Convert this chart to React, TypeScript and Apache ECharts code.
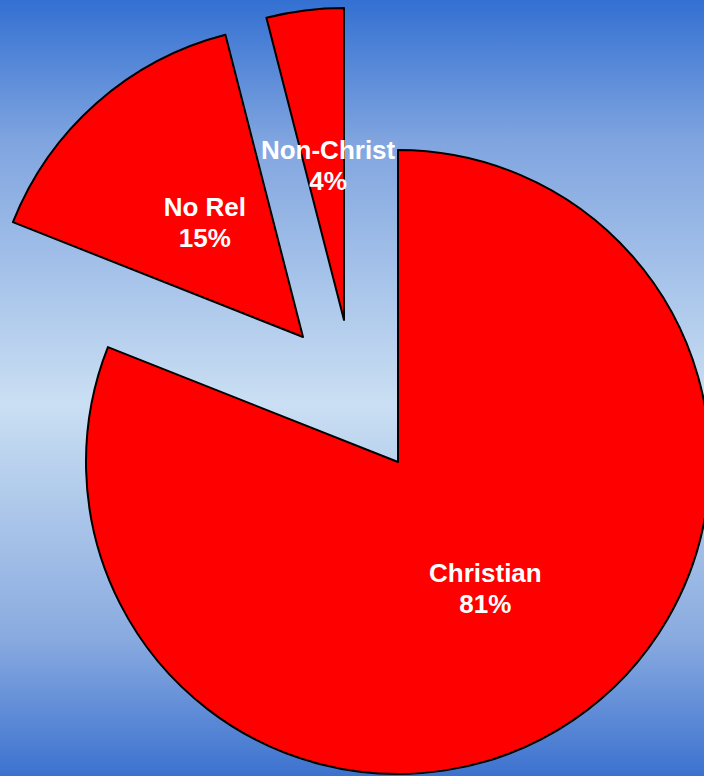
import React, { useEffect, useRef } from "react";
import * as echarts from "echarts";

const categories = ["Christian", "No Rel", "Non-Christ"];
const values = [81, 15, 4];
const labels = ["Christian\n81%", "No Rel\n15%", "Non-Christ\n4%"];
// pixel center of each (exploded) slice
const centers: [number, number][] = [
  [398, 462],
  [303, 337],
  [344, 320],
];
const labelOffsets: [number, number][] = [
  [-2, -5],
  [7, 5],
  [4, 3],
];

export default function App() {
  const ref = useRef<HTMLDivElement>(null);
  useEffect(() => {
    document.body.style.margin = "0";
    const chart = echarts.init(ref.current!, null, { renderer: "svg" });
    const series = categories.map((_, si) => ({
      type: "pie",
      name: categories[si],
      center: centers[si],
      radius: 312,
      startAngle: 90,
      clockwise: true,
      avoidLabelOverlap: false,
      labelLine: { show: false },
      emphasis: { disabled: true },
      silent: true,
      data: categories.map((c, i) => ({
        name: c,
        value: values[i],
        itemStyle:
          i === si
            ? { color: "#ff0000", borderColor: "#000000", borderWidth: 2 }
            : { color: "rgba(0,0,0,0)", borderWidth: 0 },
        label:
          i === si
            ? {
                show: true,
                position: "inside",
                formatter: () => labels[i],
                color: "#ffffff",
                fontFamily: "'Liberation Sans', Arial, sans-serif",
                fontWeight: "bold",
                fontSize: 26,
                lineHeight: 31,
                align: "center",
                offset: labelOffsets[i],
              }
            : { show: false },
      })),
    }));
    chart.setOption({
      animation: false,
      backgroundColor: {
        type: "linear",
        x: 0,
        y: 0,
        x2: 0,
        y2: 1,
        colorStops: [
          { offset: 0, color: "#3370d2" },
          { offset: 0.18, color: "#7fa4df" },
          { offset: 0.52, color: "#cadff3" },
          { offset: 0.82, color: "#8aabe0" },
          { offset: 1, color: "#3c72cf" },
        ],
      },
      series,
    });
    return () => chart.dispose();
  }, []);
  return <div ref={ref} style={{ width: 704, height: 776 }} />;
}
